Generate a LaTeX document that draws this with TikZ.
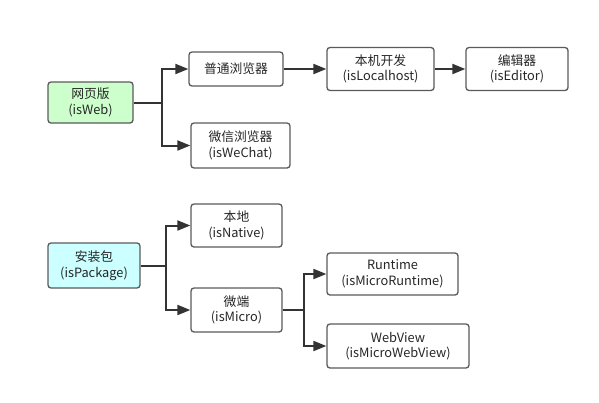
\documentclass[tikz,border=0pt]{standalone}
\usepackage{fontspec}
\setmainfont{Noto Sans CJK SC}
\usetikzlibrary{arrows.meta}
\definecolor{boxline}{HTML}{5A5A5A}
\definecolor{conn}{HTML}{333333}
\definecolor{webfill}{HTML}{CCFFCC}
\definecolor{pkgfill}{HTML}{CCFFFF}
\tikzset{
  box/.style={draw=boxline, line width=1.3pt, rounded corners=3pt, fill=white,
    align=center, inner sep=0pt, font=\fontsize{12.8}{15.5}\selectfont, text=black!85},
  conn/.style={draw=conn, line width=2pt, -{Triangle[length=13pt,width=10pt]}},
  connplain/.style={draw=conn, line width=2pt}
}
\begin{document}
\begin{tikzpicture}[x=1pt,y=-1pt]
\useasboundingbox (0,0) rectangle (599,402);
\node[box, fill=webfill, minimum width=85pt, minimum height=41pt] (web) at (90.5,102.5) {网页版\\(isWeb)};
\node[box, minimum width=94pt, minimum height=34pt] (pc) at (236,69) {普通浏览器};
\node[box, minimum width=99pt, minimum height=45pt] (wechat) at (240.5,145.5) {微信浏览器\\(isWeChat)};
\node[box, minimum width=107pt, minimum height=43pt] (local) at (380.5,69) {本机开发\\(isLocalhost)};
\node[box, minimum width=102pt, minimum height=43pt] (editor) at (517,69) {编辑器\\(isEditor)};
\node[box, fill=pkgfill, minimum width=92pt, minimum height=45pt] (pkg) at (94,265.5) {安装包\\(isPackage)};
\node[box, minimum width=91pt, minimum height=43pt] (native) at (236.5,225.5) {本地\\(isNative)};
\node[box, minimum width=91pt, minimum height=44pt] (micro) at (236.5,310) {微端\\(isMicro)};
\node[box, minimum width=131pt, minimum height=42pt] (runtime) at (392.5,274) {Runtime\\(isMicroRuntime)};
\node[box, minimum width=142pt, minimum height=44pt] (webview) at (398,346) {WebView\\(isMicroWebView)};
\coordinate (b1) at (162,102.5);
\coordinate (b2) at (166,265.5);
\coordinate (b3) at (304,310);
\draw[connplain] (web.east) -- (b1);
\draw[conn] (b1) |- (pc.west);
\draw[conn] (b1) |- (wechat.west);
\draw[conn] (pc.east) -- (local.west);
\draw[conn] (local.east) -- (editor.west);
\draw[connplain] (pkg.east) -- (b2);
\draw[conn] (b2) |- (native.west);
\draw[conn] (b2) |- (micro.west);
\draw[connplain] (micro.east) -- (b3);
\draw[conn] (b3) |- (runtime.west);
\draw[conn] (b3) |- (webview.west);
\end{tikzpicture}
\end{document}
